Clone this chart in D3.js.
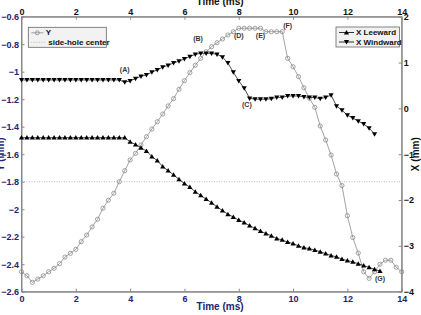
<!DOCTYPE html>
<html>
<head>
<meta charset="utf-8">
<script src="https://cdn.jsdelivr.net/npm/d3@7"></script>
<style>
  html, body { margin: 0; padding: 0; background: #fff; overflow: hidden; }
  svg { display: block; font-family: Arial, "Liberation Sans", sans-serif; }
</style>
</head>
<body>
<div id="chart"></div>
<script>
// sample times (ms), shared by all three series
const timeMs = [
  0, 0.2, 0.4, 0.6, 0.8, 1, 1.2, 1.4, 1.6, 1.8, 2, 2.2, 2.4, 2.6, 2.8, 3, 3.2, 3.4, 3.6, 3.8,
  4, 4.2, 4.4, 4.6, 4.8, 5, 5.2, 5.4, 5.6, 5.8, 6, 6.2, 6.4, 6.6, 6.8, 7, 7.2, 7.4, 7.6, 7.8,
  8, 8.2, 8.4, 8.6, 8.8, 9, 9.2, 9.4, 9.6, 9.8, 10, 10.2, 10.4, 10.6, 10.8, 11, 11.2, 11.4, 11.6, 11.8,
  12, 12.2, 12.4, 12.6, 12.8, 13, 13.2, 13.4, 13.6, 13.8, 14
];

// Y (left axis, mm)
const yValues = [
  -2.455, -2.484, -2.532, -2.508, -2.484, -2.455, -2.430, -2.396, -2.348, -2.321,
  -2.292, -2.236, -2.188, -2.129, -2.073, -1.993, -1.935, -1.884, -1.800, -1.720,
  -1.642, -1.594, -1.533, -1.473, -1.417, -1.364, -1.308, -1.249, -1.196, -1.128,
  -1.065, -1.007, -0.953, -0.903, -0.855, -0.818, -0.789, -0.762, -0.733, -0.709,
  -0.684, -0.684, -0.684, -0.684, -0.684, -0.709, -0.709, -0.709, -0.709, -0.903,
  -0.964, -1.036, -1.117, -1.193, -1.259, -1.395, -1.497, -1.606, -1.744, -1.828,
  -2.047, -2.206, -2.319, -2.455, -2.503, -2.455, -2.400, -2.371, -2.371, -2.422,
  -2.455
];

// X leeward (right axis, mm)
const leewardValues = [
  -0.64, -0.64, -0.64, -0.64, -0.64, -0.64, -0.64, -0.64, -0.64, -0.64,
  -0.64, -0.64, -0.64, -0.64, -0.64, -0.64, -0.64, -0.64, -0.64, -0.64,
  -0.73, -0.79, -0.86, -0.93, -1.05, -1.14, -1.27, -1.36, -1.45, -1.55,
  -1.64, -1.72, -1.82, -1.90, -1.98, -2.06, -2.15, -2.23, -2.31, -2.37,
  -2.44, -2.49, -2.56, -2.62, -2.68, -2.73, -2.78, -2.84, -2.87, -2.92,
  -2.95, -3.00, -3.04, -3.06, -3.09, -3.13, -3.17, -3.21, -3.24, -3.29,
  -3.32, -3.35, -3.39, -3.43, -3.47, -3.51, -3.55
];

// X windward (right axis, mm)
const windwardValues = [
  0.62, 0.62, 0.62, 0.62, 0.62, 0.62, 0.62, 0.62, 0.62, 0.62,
  0.62, 0.62, 0.62, 0.62, 0.62, 0.62, 0.62, 0.62, 0.62, 0.57,
  0.60, 0.65, 0.70, 0.73, 0.79, 0.84, 0.90, 0.94, 0.99, 1.03,
  1.08, 1.13, 1.18, 1.20, 1.20, 1.20, 1.18, 1.12, 0.99, 0.79,
  0.60, 0.44, 0.22, 0.20, 0.20, 0.20, 0.21, 0.24, 0.24, 0.27,
  0.27, 0.27, 0.25, 0.24, 0.24, 0.21, 0.24, 0.29, 0.05, -0.04,
  -0.15, -0.21, -0.28, -0.34, -0.43, -0.56
];

const sideHoleCenter = -1.8;

// point labels: [time, axis, value, text]
const annotations = [
  [3.8, "x", 0.83, "(A)"],
  [6.5, "x", 1.52, "(B)"],
  [8.3, "x", 0.07, "(C)"],
  [8.0, "y", -0.74, "(D)"],
  [8.8, "y", -0.74, "(E)"],
  [9.8, "y", -0.67, "(F)"],
  [13.2, "x", -3.73, "(G)"]
];

const timeTicks = [0, 2, 4, 6, 8, 10, 12, 14];
const yTicks = [-0.6, -0.8, -1, -1.2, -1.4, -1.6, -1.8, -2, -2.2, -2.4, -2.6];
const xTicks = [2, 1, 0, -1, -2, -3, -4];

const W = 421, H = 315;
const margin = { t: 16.7, r: 19.3, b: 23.3, l: 21.5 };
const navy = "#24246c";

const svg = d3.select("#chart").append("svg")
  .attr("width", W).attr("height", H)
  .attr("viewBox", [0, 0, W, H]);

const x = d3.scaleLinear().domain([0, 14]).range([margin.l, W - margin.r]);
const yL = d3.scaleLinear().domain([-2.6, -0.6]).range([H - margin.b, margin.t]);
const yR = d3.scaleLinear().domain([-4, 2]).range([H - margin.b, margin.t]);

// frame
svg.append("rect")
  .attr("x", margin.l).attr("y", margin.t)
  .attr("width", W - margin.l - margin.r)
  .attr("height", H - margin.t - margin.b)
  .attr("fill", "#fff").attr("stroke", "#888").attr("stroke-width", 1);

// axes (ticks point inward)
function styleAxis(g, color) {
  g.select(".domain").attr("stroke", "#888");
  g.selectAll(".tick line").attr("stroke", "#888");
  g.selectAll(".tick text")
    .attr("fill", color)
    .attr("font-size", 9)
    .attr("font-weight", "bold");
}

svg.append("g")
  .attr("transform", `translate(0,${H - margin.b})`)
  .call(d3.axisBottom(x).tickValues(timeTicks).tickFormat(d3.format("d"))
    .tickSizeInner(-3).tickSizeOuter(0).tickPadding(4))
  .call(styleAxis, navy);

svg.append("g")
  .attr("transform", `translate(0,${margin.t})`)
  .call(d3.axisTop(x).tickValues(timeTicks).tickFormat(d3.format("d"))
    .tickSizeInner(-3).tickSizeOuter(0).tickPadding(2))
  .call(styleAxis, "#111");

svg.append("g")
  .attr("transform", `translate(${margin.l},0)`)
  .call(d3.axisLeft(yL).tickValues(yTicks).tickFormat(d => d3.format("~g")(d))
    .tickSizeInner(-3).tickSizeOuter(0).tickPadding(2.5))
  .call(styleAxis, navy);

svg.append("g")
  .attr("transform", `translate(${W - margin.r},0)`)
  .call(d3.axisRight(yR).tickValues(xTicks).tickFormat(d3.format("d"))
    .tickSizeInner(-3).tickSizeOuter(0).tickPadding(2))
  .call(styleAxis, "#111");

// axis titles
svg.append("text")
  .attr("x", 220).attr("y", 310)
  .attr("text-anchor", "middle")
  .attr("font-size", 10).attr("font-weight", "bold").attr("fill", navy)
  .text("Time (ms)");

svg.append("text")
  .attr("x", 220).attr("y", 5)
  .attr("text-anchor", "middle")
  .attr("font-size", 10).attr("font-weight", "bold").attr("fill", "#111")
  .text("Time (ms)");

svg.append("text")
  .attr("transform", `translate(4,${(margin.t + H - margin.b) / 2}) rotate(-90)`)
  .attr("text-anchor", "middle")
  .attr("font-size", 10).attr("font-weight", "bold").attr("fill", navy)
  .text("Y (mm)");

svg.append("text")
  .attr("transform", `translate(419,${(margin.t + H - margin.b) / 2}) rotate(-90)`)
  .attr("text-anchor", "middle")
  .attr("font-size", 10).attr("font-weight", "bold").attr("fill", "#111")
  .text("X (mm)");

// side-hole center reference
svg.append("line")
  .attr("x1", margin.l).attr("x2", W - margin.r)
  .attr("y1", yL(sideHoleCenter)).attr("y2", yL(sideHoleCenter))
  .attr("stroke", "#aaa").attr("stroke-width", 0.8)
  .attr("stroke-dasharray", "1,1.5");

// geometry
const triUp = "M0,-2.6L2.6,1.9L-2.6,1.9Z";
const triDown = "M0,2.6L2.6,-1.9L-2.6,-1.9Z";

function drawSeries(values, yScale, stroke, lineWidth, marker) {
  const pts = values.map((v, i) => [timeMs[i], v]);
  const g = svg.append("g");
  g.append("path")
    .attr("d", d3.line().x(d => x(d[0])).y(d => yScale(d[1]))(pts))
    .attr("fill", "none").attr("stroke", stroke).attr("stroke-width", lineWidth);
  if (marker === "circle") {
    g.selectAll("circle").data(pts).join("circle")
      .attr("cx", d => x(d[0])).attr("cy", d => yScale(d[1]))
      .attr("r", 2.1)
      .attr("fill", "none").attr("stroke", stroke).attr("stroke-width", 0.8);
  } else {
    g.selectAll("path.m").data(pts).join("path")
      .attr("class", "m")
      .attr("transform", d => `translate(${x(d[0])},${yScale(d[1])})`)
      .attr("d", marker)
      .attr("fill", "#000");
  }
}

drawSeries(yValues, yL, "#8a8a8a", 0.8, "circle");
drawSeries(leewardValues, yR, "#000", 0.7, triUp);
drawSeries(windwardValues, yR, "#000", 0.7, triDown);

// annotations
svg.append("g").selectAll("text").data(annotations).join("text")
  .attr("x", d => x(d[0]))
  .attr("y", d => (d[1] === "x" ? yR(d[2]) : yL(d[2])))
  .attr("text-anchor", "middle")
  .attr("dominant-baseline", "middle")
  .attr("font-size", 7).attr("font-weight", "bold").attr("fill", "#333")
  .text(d => d[3]);

// legends
function legend(x0, y0, w, items) {
  const g = svg.append("g").attr("transform", `translate(${x0},${y0})`);
  g.append("rect").attr("width", w).attr("height", 20)
    .attr("fill", "#f2f2f2").attr("stroke", "#666").attr("stroke-width", 0.8);
  items.forEach((it, i) => {
    const cy = 5.5 + i * 9.5;
    const row = g.append("g").attr("transform", `translate(0,${cy})`);
    row.append("line").attr("x1", 3).attr("x2", it.lineEnd).attr("y1", 0).attr("y2", 0)
      .attr("stroke", it.stroke).attr("stroke-width", 0.8)
      .attr("stroke-dasharray", it.dash || null);
    if (it.marker === "circle") {
      row.append("circle").attr("cx", (3 + it.lineEnd) / 2).attr("r", 2)
        .attr("fill", "none").attr("stroke", it.stroke).attr("stroke-width", 0.8);
    } else if (it.marker) {
      row.append("path").attr("transform", `translate(${(3 + it.lineEnd) / 2},0)`)
        .attr("d", it.marker).attr("fill", "#000");
    }
    row.append("text").attr("x", it.textX).attr("y", 0)
      .attr("dominant-baseline", "central")
      .attr("font-size", 8).attr("font-weight", "bold").attr("fill", "#111")
      .text(it.label);
  });
}

legend(28.3, 27.3, 78, [
  { label: "Y", stroke: "#8a8a8a", marker: "circle", lineEnd: 15, textX: 17.5 },
  { label: "side-hole center", stroke: "#aaa", dash: "1,1.5", lineEnd: 18, textX: 20 }
]);

legend(336, 27, 63.5, [
  { label: "X Leeward", stroke: "#000", marker: triUp, lineEnd: 18, textX: 20 },
  { label: "X Windward", stroke: "#000", marker: triDown, lineEnd: 18, textX: 20 }
]);
</script>
</body>
</html>
